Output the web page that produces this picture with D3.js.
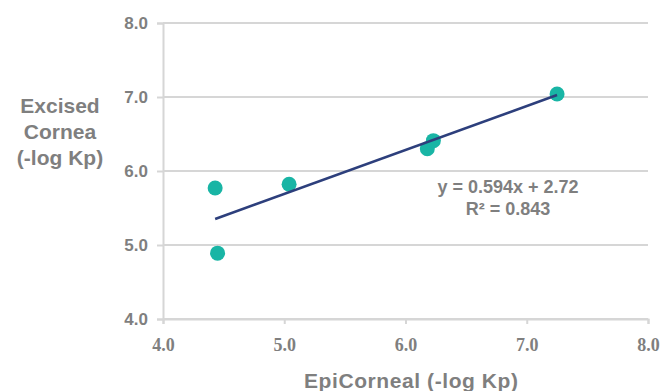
<!DOCTYPE html>
<html>
<head>
<meta charset="utf-8">
<script src="https://cdn.jsdelivr.net/npm/d3@7"></script>
<style>
  body { margin: 0; background: #fff; }
  text { fill: #7f7f7f; font-weight: bold; }
</style>
</head>
<body>
<svg width="664" height="391"></svg>
<script>
const epiCorneal = [4.43, 4.45, 5.04, 6.18, 6.23, 7.25];
const excisedCornea = [5.77, 4.89, 5.82, 6.30, 6.41, 7.04];
const xTicks = [4, 5, 6, 7, 8];
const yTicks = [4, 5, 6, 7, 8];
const fit = { slope: 0.594, intercept: 2.72, r2: 0.843 };

const svg = d3.select('svg');
const x = d3.scaleLinear().domain([4, 8]).range([163, 648]);
const y = d3.scaleLinear().domain([4, 8]).range([319, 23]);

// gridlines
svg.append('g')
  .selectAll('line')
  .data(yTicks)
  .join('line')
  .attr('x1', x(4)).attr('x2', x(8))
  .attr('y1', d => y(d)).attr('y2', d => y(d))
  .attr('stroke', '#d6d6d6')
  .attr('stroke-width', 2);

// y axis
const yAxis = svg.append('g')
  .attr('transform', `translate(${x(4)},0)`)
  .call(d3.axisLeft(y).tickValues(yTicks).tickFormat(d3.format('.1f')).tickSize(6).tickPadding(9));
yAxis.select('.domain').attr('stroke', '#d6d6d6').attr('stroke-width', 2);
yAxis.selectAll('.tick line').attr('stroke', '#d6d6d6').attr('stroke-width', 2);
yAxis.selectAll('.tick text')
  .attr('fill', '#7f7f7f')
  .style('font-family', 'Liberation Sans, Arial, sans-serif')
  .style('font-size', '17px');

// x axis
const xAxis = svg.append('g')
  .attr('transform', `translate(0,${y(4)})`)
  .call(d3.axisBottom(x).tickValues(xTicks).tickFormat(d3.format('.1f')).tickSize(5).tickPadding(14));
xAxis.select('.domain').attr('stroke', '#d6d6d6').attr('stroke-width', 2);
xAxis.selectAll('.tick line').attr('stroke', '#d6d6d6').attr('stroke-width', 2);
xAxis.selectAll('.tick text')
  .attr('fill', '#7f7f7f')
  .style('font-family', 'Liberation Serif, Times New Roman, serif')
  .style('font-size', '18px');

// points
svg.append('g')
  .selectAll('circle')
  .data(epiCorneal.map((v, i) => [v, excisedCornea[i]]))
  .join('circle')
  .attr('cx', d => x(d[0]))
  .attr('cy', d => y(d[1]))
  .attr('r', 7.5)
  .attr('fill', '#19b5a5');

// trend line
const x0 = d3.min(epiCorneal), x1 = d3.max(epiCorneal);
svg.append('line')
  .attr('x1', x(x0)).attr('y1', y(fit.slope * x0 + fit.intercept))
  .attr('x2', x(x1)).attr('y2', y(fit.slope * x1 + fit.intercept))
  .attr('stroke', '#2d3f7c')
  .attr('stroke-width', 2.5);

// equation
const eq = svg.append('text')
  .attr('text-anchor', 'middle')
  .style('font-family', 'Liberation Sans, Arial, sans-serif')
  .style('font-size', '18px');
eq.append('tspan').attr('x', 508).attr('y', 193)
  .text(`y = ${fit.slope}x + ${fit.intercept}`);
eq.append('tspan').attr('x', 508).attr('y', 215)
  .text(`R² = ${fit.r2}`);

// y title
const yt = svg.append('text')
  .attr('text-anchor', 'middle')
  .style('font-family', 'Liberation Sans, Arial, sans-serif')
  .style('font-size', '21px');
['Excised', 'Cornea', '(-log Kp)'].forEach((s, i) => {
  yt.append('tspan').attr('x', 60).attr('y', 113 + i * 26).text(s);
});

// x title
svg.append('text')
  .attr('x', 411).attr('y', 388)
  .attr('text-anchor', 'middle')
  .attr('textLength', 214)
  .style('font-family', 'Liberation Sans, Arial, sans-serif')
  .style('font-size', '21px')
  .text('EpiCorneal (-log Kp)');
</script>
</body>
</html>
